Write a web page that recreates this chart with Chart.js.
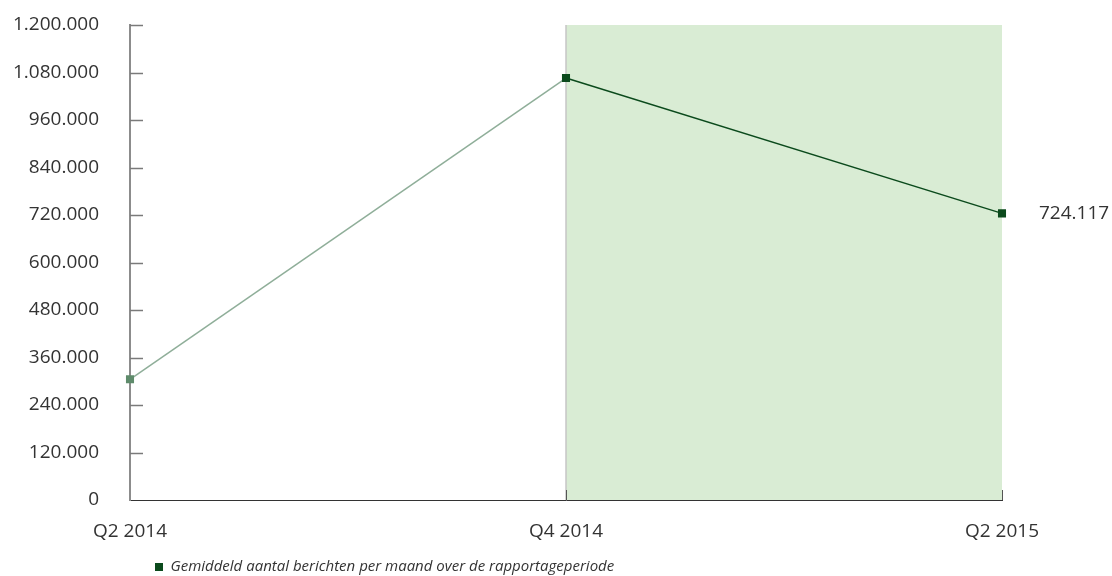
<!DOCTYPE html>
<html>
<head>
<meta charset="utf-8">
<script src="https://cdn.jsdelivr.net/npm/chart.js@4.4.0/dist/chart.umd.min.js"></script>
<style>
  html, body { margin: 0; padding: 0; background: #fff; }
  #wrap { width: 1112px; height: 576px; position: relative; }
</style>
</head>
<body>
<div id="wrap"><canvas id="chart"></canvas></div>
<script>
// ── data ──
const periods = ['Q2 2014', 'Q4 2014', 'Q2 2015'];
const berichten = [305000, 1066000, 724117];
const seriesLabel = 'Gemiddeld aantal berichten per maand over de rapportageperiode';
const yMax = 1200000;
const yStep = 120000;
const shadeFrom = 1;   // index Q4 2014
const shadeTo = 2;     // index Q2 2015
const labelIndex = 2;  // punt met waardelabel

const DARK = '#0b4a1c';
const LIGHT = '#8fae99';
const TEXT = '#333333';

// duizendtallen met punt
function fmt(v) {
  return String(Math.round(v)).replace(/\B(?=(\d{3})+(?!\d))/g, '.');
}

// ── achtergrondvlak, tick-streepjes en waardelabel ──
const decor = {
  id: 'decor',
  afterLayout(chart) {
    // legenda iets naar rechts, zoals in het origineel
    if (chart.legend) chart.legend.left += 15.5;
  },
  beforeDatasetsDraw(chart) {
    const { ctx, chartArea: a, scales: { x, y } } = chart;
    const x1 = x.getPixelForValue(shadeFrom);
    const x2 = x.getPixelForValue(shadeTo);
    ctx.save();
    ctx.fillStyle = '#d9ecd4';
    ctx.fillRect(x1, a.top, x2 - x1, a.bottom - a.top);
    ctx.strokeStyle = '#c6c6c6';
    ctx.lineWidth = 1.5;
    ctx.beginPath();
    ctx.moveTo(x1, a.top);
    ctx.lineTo(x1, a.bottom);
    ctx.stroke();

    // korte streepjes naar binnen op de y-as
    ctx.strokeStyle = '#7a7a7a';
    ctx.lineWidth = 1.5;
    y.ticks.forEach((t, i) => {
      if (i === 0) return;
      const py = Math.round(y.getPixelForTick(i)) + 0.5;
      ctx.beginPath();
      ctx.moveTo(a.left, py);
      ctx.lineTo(a.left + 13, py);
      ctx.stroke();
    });

    // korte streepjes omhoog op de x-as
    ctx.strokeStyle = '#555';
    ctx.lineWidth = 1;
    [shadeFrom, shadeTo].forEach(i => {
      const px = Math.round(x.getPixelForValue(i)) + 0.5;
      ctx.beginPath();
      ctx.moveTo(px, a.bottom);
      ctx.lineTo(px, a.bottom - 10);
      ctx.stroke();
    });
    ctx.restore();
  },
  afterDatasetsDraw(chart) {
    const { ctx } = chart;
    const pt = chart.getDatasetMeta(0).data[labelIndex];
    ctx.save();
    ctx.font = '19px "Open Sans"';
    ctx.fillStyle = TEXT;
    ctx.textAlign = 'left';
    ctx.textBaseline = 'middle';
    ctx.fillText(fmt(berichten[labelIndex]), pt.x + 37, pt.y);
    ctx.restore();
  }
};

new Chart(document.getElementById('chart'), {
  type: 'line',
  data: {
    labels: periods,
    datasets: [{
      label: seriesLabel,
      data: berichten,
      borderColor: DARK,
      borderWidth: 1.5,
      segment: {
        borderColor: c => c.p0DataIndex === 0 ? LIGHT : DARK
      },
      pointStyle: 'rect',
      pointRadius: 5.7,
      pointHoverRadius: 5.7,
      pointBorderWidth: 0,
      pointBackgroundColor: ['#5e8b6b', DARK, DARK],
      tension: 0,
      fill: false
    }]
  },
  options: {
    responsive: true,
    maintainAspectRatio: false,
    animation: false,
    layout: { padding: { left: 0, right: 110, top: 25, bottom: -8.5 } },
    plugins: {
      tooltip: { enabled: false },
      legend: {
        position: 'bottom',
        align: 'start',
        fullSize: false,
        labels: {
          usePointStyle: true,
          pointStyle: 'rect',
          boxWidth: 8,
          boxHeight: 8,
          padding: 9.5,
          color: TEXT,
          font: { family: '"Open Sans"', size: 15, style: 'italic' },
          generateLabels(chart) {
            const items = Chart.defaults.plugins.legend.labels.generateLabels(chart);
            items.forEach(it => { it.fillStyle = DARK; it.strokeStyle = DARK; it.lineWidth = 0; });
            return items;
          }
        }
      }
    },
    scales: {
      x: {
        offset: false,
        grid: { display: false },
        border: { display: true, color: '#333', width: 1 },
        ticks: {
          color: TEXT,
          padding: 12,
          maxRotation: 0,
          font: { family: '"Open Sans"', size: 19 }
        },
        afterFit(s) { s.height = 50; }
      },
      y: {
        min: 0,
        max: yMax,
        grid: {
          display: true,
          drawOnChartArea: false,
          drawTicks: true,
          tickLength: 28,
          tickColor: 'rgba(0,0,0,0)'
        },
        border: { display: true, color: '#8c8c8c', width: 2 },
        ticks: {
          stepSize: yStep,
          color: TEXT,
          padding: 3,
          font: { family: '"Open Sans"', size: 19 },
          callback: v => fmt(v)
        },
        afterFit(s) { s.width = 130; }
      }
    }
  },
  plugins: [decor]
});
</script>
</body>
</html>
